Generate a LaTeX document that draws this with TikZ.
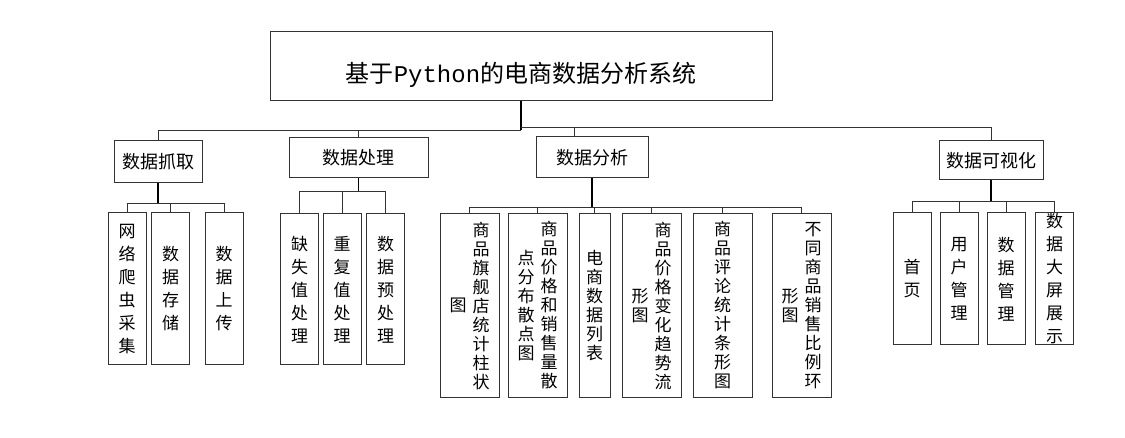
\documentclass[tikz,border=0pt]{standalone}
\usepackage{fontspec}
\setmainfont{Noto Sans CJK SC}
\setmonofont{Liberation Mono}
\usepackage{tikz}
\makeatletter
\newcommand{\vstack}[2][23pt]{\parbox[c]{17pt}{\centering\fontsize{17pt}{#1}\selectfont\@tfor\vch:=#2\do{\vch\par}}}
\makeatother
\newcommand{\vpair}[3][19pt]{\vstack[#1]{#3}\hspace{6pt}\vstack[#1]{#2}}

\tikzset{
  wire/.style={line width=0.8pt, draw=black!80},
  trunk/.style={line width=1.8pt, draw=black},
  topbox/.style={draw=black!80, line width=1pt, inner sep=0pt, font=\fontsize{24pt}{26pt}\selectfont},
  midbox/.style={draw=black!80, line width=1pt, inner sep=0pt, font=\fontsize{18pt}{20pt}\selectfont},
  leafbox/.style={draw=black!80, line width=1pt, inner sep=0pt, minimum width=38pt},
}

\begin{document}
\begin{tikzpicture}[x=1pt,y=-1pt]
\useasboundingbox (0,0) rectangle (1125,438);

% title
\node[topbox, minimum width=502pt, minimum height=69pt, text height=33pt, text depth=0pt] (root) at (521,66.5) {基于\texttt{Python}的电商数据分析系统};

% first level
\node[midbox, minimum width=88pt, minimum height=42pt] (grab) at (158,162) {数据抓取};
\node[midbox, minimum width=139pt, minimum height=40pt] (proc) at (358.5,158) {数据处理};
\node[midbox, minimum width=112pt, minimum height=41pt] (anal) at (592,157.5) {数据分析};
\node[midbox, minimum width=104pt, minimum height=39pt] (vis) at (991,160.5) {数据可视化};

\coordinate (lbus) at (521,130);
\coordinate (rbus) at (521,127);
\draw[trunk] (root.south) -- (lbus);
\draw[wire] (lbus) -| (grab.north);
\draw[wire] (lbus) -| (proc.north);
\draw[wire] (rbus) -| ([xshift=-18pt]anal.north);
\draw[wire] (rbus) -| (vis.north);

% grab
\node[leafbox, minimum height=152pt] (g1) at (127,289) {\vstack{网络爬虫采集}};
\node[leafbox, minimum height=152pt] (g2) at (170.5,289) {\vstack{数据存储}};
\node[leafbox, minimum height=152pt] (g3) at (224,289) {\vstack{数据上传}};
\coordinate (gbus) at (grab.south |- 0,203);
\draw[trunk] (grab.south) -- (gbus);
\foreach \n in {g1,g2,g3} \draw[wire] (gbus) -| (\n.north);

% proc
\node[leafbox, minimum height=151pt] (p1) at (299.5,289.5) {\vstack{缺失值处理}};
\node[leafbox, minimum height=151pt] (p2) at (342,289.5) {\vstack{重复值处理}};
\node[leafbox, minimum height=151pt] (p3) at (385.5,289.5) {\vstack{数据预处理}};
\coordinate (pbus) at (proc.south |- 0,191);
\draw[trunk] (proc.south) -- (pbus);
\foreach \n in {p1,p2,p3} \draw[wire] (pbus) -| (\n.north);

% anal
\node[leafbox, minimum width=59pt, minimum height=183pt] (a1) at (469.5,305.5) {\vpair{商品旗舰店统计柱状}{图}};
\node[leafbox, minimum width=59pt, minimum height=183pt] (a2) at (537.5,305.5) {\vpair{商品价格和销售量散}{点分布散点图}};
\node[leafbox, minimum width=31pt, minimum height=183pt] (a3) at (594.5,305.5) {\vstack[19pt]{电商数据列表}};
\node[leafbox, minimum width=59pt, minimum height=183pt] (a4) at (651.5,305.5) {\vpair{商品价格变化趋势流}{形图}};
\node[leafbox, minimum width=59pt, minimum height=183pt] (a5) at (722.5,305.5) {\vstack[19pt]{商品评论统计条形图}};
\node[leafbox, minimum width=59pt, minimum height=183pt] (a6) at (801.5,305.5) {\vpair{不同商品销售比例环}{形图}};
\coordinate (abus) at (anal.south |- 0,207);
\draw[trunk] (anal.south) -- (abus);
\foreach \n in {a1,a2,a3,a4,a5,a6} \draw[wire] (abus) -| (\n.north);

% vis
\node[leafbox, minimum height=132pt] (v1) at (912,279) {\vstack{首页}};
\node[leafbox, minimum height=132pt] (v2) at (959,279) {\vstack{用户管理}};
\node[leafbox, minimum height=132pt] (v3) at (1006,279) {\vstack{数据管理}};
\node[leafbox, minimum height=132pt] (v4) at (1054.5,279) {\vstack{数据大屏展示}};
\coordinate (vbus) at (vis.south |- 0,201);
\draw[trunk] (vis.south) -- (vbus);
\foreach \n in {v1,v2,v3,v4} \draw[wire] (vbus) -| (\n.north);
\end{tikzpicture}
\end{document}
